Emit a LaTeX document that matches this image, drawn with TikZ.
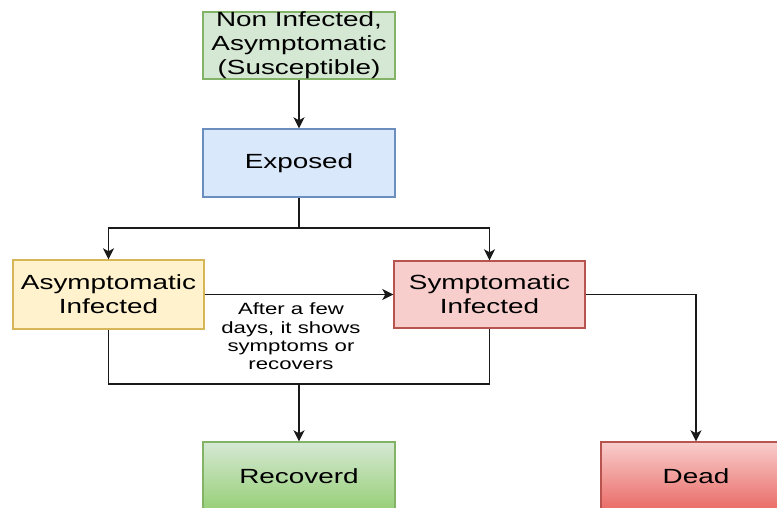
\documentclass[tikz,border=0pt]{standalone}
\usepackage{fontspec}
\setmainfont{Liberation Sans}[FakeStretch=1.36]
\usetikzlibrary{arrows.meta,positioning}
\definecolor{gfill}{HTML}{D5E8D4}\definecolor{gline}{HTML}{82B366}
\definecolor{bfill}{HTML}{DAE8FC}\definecolor{bline}{HTML}{6C8EBF}
\definecolor{yfill}{HTML}{FFF2CC}\definecolor{yline}{HTML}{D6B656}
\definecolor{rfill}{HTML}{F8CECC}\definecolor{rline}{HTML}{B85450}
\definecolor{gdark}{HTML}{97D077}\definecolor{rdark}{HTML}{EA6B66}
\definecolor{edge}{HTML}{1A1A1A}
\tikzset{
  box/.style={rectangle, draw, line width=1.4pt, inner sep=0pt, align=center,
    minimum width=192pt, minimum height=68pt, text=black,
    font=\fontsize{20.5pt}{24pt}\selectfont},
  conn/.style={draw=edge, line width=1.5pt},
  arr/.style={conn, -{Stealth[length=11pt,width=11pt,inset=3pt]}},
  lbl/.style={align=center, inner sep=0pt, text=black,
    font=\fontsize{16.3pt}{18.3pt}\selectfont}
}
\begin{document}
\begin{tikzpicture}[x=1pt,y=-1pt]
\useasboundingbox (0,0) rectangle (777,507);
\clip (0,0) rectangle (777,507);
\fill[white] (0,0) rectangle (777,507);
\node[box, fill=gfill, draw=gline, minimum height=67pt] (sus) at (299,45.5) {Non Infected,\\Asymptomatic\\(Susceptible)};
\node[box, fill=bfill, draw=bline] (exp) at (299,163) {Exposed};
\node[box, fill=yfill, draw=yline, minimum width=191pt, minimum height=69pt] (asym) at (108.5,294.5) {Asymptomatic\\Infected};
\node[box, fill=rfill, draw=rline, minimum width=191pt, minimum height=67pt] (sym) at (489.5,294.5) {Symptomatic\\Infected};
\node[box, top color=gfill, bottom color=gdark, draw=gline] (rec) at (299,476) {Recoverd};
\node[box, top color=rfill, bottom color=rdark, draw=rline, minimum width=190pt] (dead) at (696,476) {Dead};
\coordinate (split) at (299,228);
\coordinate (join) at (299,384);
\draw[arr] (sus) -- (exp);
\draw[conn] (exp) -- (split);
\draw[arr] (split) -| (asym.north);
\draw[arr] (split) -| (sym.north);
\draw[arr] (asym.east) -- (sym.west);
\draw[conn] (asym.south) |- (join);
\draw[conn] (sym.south) |- (join);
\draw[arr] (join) -- (rec.north);
\draw[arr] (sym.east) -| (dead.north);
\node[lbl] (note) at (291,336.5) {After a few\\days, it shows\\symptoms or\\recovers};
\end{tikzpicture}
\end{document}
